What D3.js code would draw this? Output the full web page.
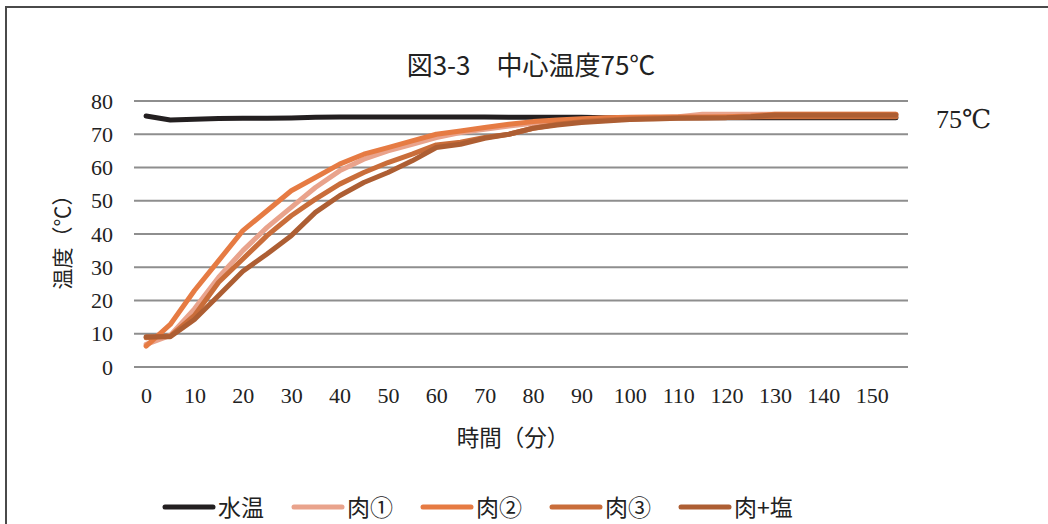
<!DOCTYPE html>
<html>
<head>
<meta charset="utf-8">
<script src="https://cdn.jsdelivr.net/npm/d3@7"></script>
<style>
  html, body { margin: 0; padding: 0; background: #fff; }
  svg { display: block; }
</style>
</head>
<body>
<svg id="chart" width="1048" height="524"></svg>
<script>
// Elapsed time (minutes), sampled every 5 minutes
const minutes = d3.range(0, 160, 5);

const seriesNames = ["水温", "肉①", "肉②", "肉③", "肉+塩"];
const seriesColors = ["#231f20", "#e9a38c", "#e67b43", "#c96d3a", "#ad5e33"];

// Temperatures (℃)
const waterTemp = [75.5, 74.3, 74.5, 74.7, 74.8, 74.8, 74.9, 75.1, 75.2, 75.2, 75.2, 75.2, 75.2, 75.2, 75.2, 75.1,
                   75.1, 75.1, 75.1, 75.0, 75.0, 75.0, 75.0, 75.0, 75.0, 75.0, 75.0, 75.0, 75.0, 75.0, 75.0, 75.0];
const meat1 = [6.8, 9.5, 17.5, 27, 35, 42, 48, 54, 59, 62.5, 65, 67, 69, 70.5, 71.5, 72.5,
               73.3, 73.8, 74.2, 74.5, 74.8, 75.0, 75.3, 76.0, 76.0, 76.0, 76.0, 76.0, 76.0, 76.0, 76.0, 76.0];
const meat2 = [6.3, 12.8, 23, 32, 41, 47, 53, 57, 61, 64, 66, 68, 70, 71, 72, 73,
               73.8, 74.3, 74.7, 75.0, 75.1, 75.2, 75.2, 75.2, 75.3, 75.5, 76.0, 76.0, 76.0, 76.0, 76.0, 76.0];
const meat3 = [8.8, 9.3, 15.5, 25.5, 32.5, 39.5, 45.5, 50.5, 55, 58.5, 61.5, 64, 66.8, 67.6, 69, 70,
               71.8, 73, 73.8, 74.3, 74.6, 74.8, 75, 75, 75, 75.2, 75.3, 75.3, 75.3, 75.3, 75.3, 75.3];
const meatSalt = [9.1, 9.1, 14.3, 21.5, 28.8, 34, 39.5, 46.5, 51.5, 55.5, 58.5, 62, 66, 67, 68.8, 70,
                  71.8, 72.8, 73.5, 74, 74.4, 74.6, 74.8, 74.9, 75.0, 75.3, 75.8, 75.8, 75.8, 75.8, 75.8, 75.8];

const seriesValues = [waterTemp, meat1, meat2, meat3, meatSalt];

const yTicks = [0, 10, 20, 30, 40, 50, 60, 70, 80];
const xTickLabels = d3.range(0, 160, 10);

const titleText = "図3-3　中心温度75℃";
const xTitle = "時間（分）";
const yTitle = "温度（℃）";
const targetLabel = "75℃";

const svg = d3.select("#chart");

const serif = "'Liberation Serif', 'DejaVu Serif', serif";
const cjk = "'Noto Sans CJK JP', sans-serif";

// Outer frame
svg.append("rect")
  .attr("x", 6).attr("y", 7)
  .attr("width", 1100).attr("height", 600)
  .attr("fill", "none")
  .attr("stroke", "#4a4a4a")
  .attr("stroke-width", 2);

const plot = { left: 134, right: 908, top: 101, bottom: 367 };

const x = d3.scaleBand()
  .domain(minutes)
  .range([plot.left, plot.right])
  .paddingInner(0).paddingOuter(0);
const xc = m => x(m) + x.bandwidth() / 2;

const y = d3.scaleLinear().domain([0, 80]).range([plot.bottom, plot.top]);

// Horizontal gridlines
svg.append("g")
  .selectAll("line")
  .data(yTicks)
  .join("line")
  .attr("x1", plot.left).attr("x2", plot.right)
  .attr("y1", d => y(d)).attr("y2", d => y(d))
  .attr("stroke", "#8e8e8e")
  .attr("stroke-width", 2);

const styleTicks = g => {
  g.select(".domain").remove();
  g.attr("font-family", serif).attr("font-size", 22);
  g.selectAll("text")
    .style("font-family", serif)
    .style("font-size", "22px")
    .attr("fill", "#222");
};

// Y axis tick labels
const yAxis = d3.axisLeft(y).tickValues(yTicks).tickSize(0).tickPadding(0);
svg.append("g")
  .attr("transform", `translate(${plot.left - 21},0)`)
  .call(yAxis)
  .call(styleTicks);

// X axis tick labels (every 10 minutes)
const xAxis = d3.axisBottom(d3.scaleLinear().domain([0, 150]).range([xc(0), xc(150)]))
  .tickValues(xTickLabels).tickSize(0).tickPadding(0).tickFormat(d3.format("d"));
svg.append("g")
  .attr("transform", `translate(0,${plot.bottom + 20})`)
  .call(xAxis)
  .call(styleTicks);

// Series lines
const line = d3.line()
  .x((d, i) => xc(minutes[i]))
  .y(d => y(d));

svg.append("g")
  .selectAll("path")
  .data(seriesValues)
  .join("path")
  .attr("d", d => line(d))
  .attr("fill", "none")
  .attr("stroke", (d, i) => seriesColors[i])
  .attr("stroke-width", 5)
  .attr("stroke-linejoin", "round")
  .attr("stroke-linecap", "round");

// Title
svg.append("text")
  .attr("x", 531).attr("y", 75)
  .attr("text-anchor", "middle")
  .attr("font-family", cjk)
  .attr("font-size", 26)
  .attr("fill", "#222")
  .text(titleText);

// Target temperature label
svg.append("text")
  .attr("x", 936).attr("y", 128)
  .attr("font-family", serif)
  .attr("font-size", 26)
  .attr("fill", "#222")
  .text(targetLabel);

// Axis titles
svg.append("text")
  .attr("x", 513).attr("y", 446)
  .attr("text-anchor", "middle")
  .attr("font-family", cjk)
  .attr("font-size", 22.5)
  .attr("fill", "#222")
  .text(xTitle);

svg.append("text")
  .attr("transform", "translate(70,237) rotate(-90)")
  .attr("text-anchor", "middle")
  .attr("font-family", cjk)
  .attr("font-size", 21)
  .attr("fill", "#222")
  .text(yTitle);

// Legend
const legend = svg.append("g")
  .selectAll("g")
  .data(seriesNames)
  .join("g")
  .attr("transform", (d, i) => `translate(${165 + i * 129},507)`);

legend.append("line")
  .attr("x1", 0).attr("x2", 48)
  .attr("y1", 0).attr("y2", 0)
  .attr("stroke", (d, i) => seriesColors[i])
  .attr("stroke-width", 5)
  .attr("stroke-linecap", "round");

legend.append("text")
  .attr("x", 53).attr("y", 8.5)
  .attr("font-family", cjk)
  .attr("font-size", 23)
  .attr("fill", "#222")
  .text(d => d);
</script>
</body>
</html>
